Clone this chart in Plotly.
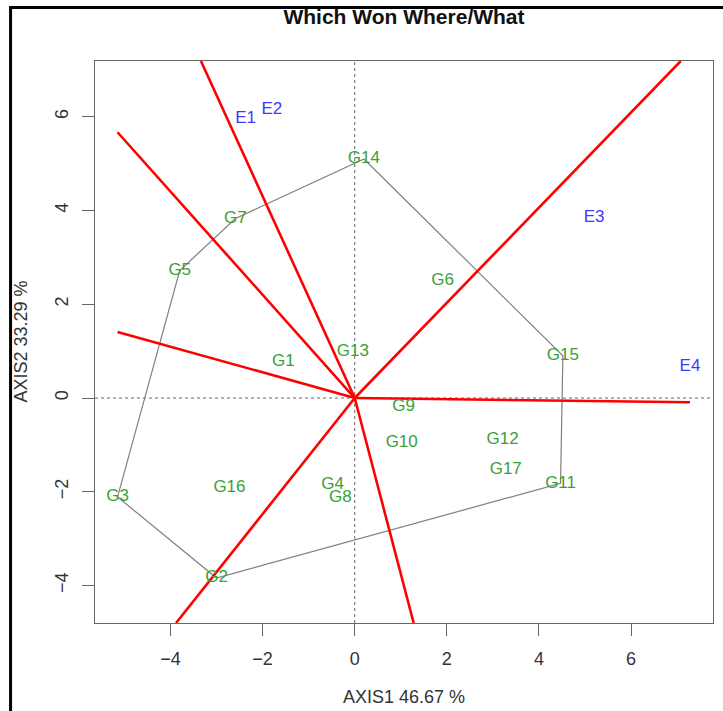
import plotly.graph_objects as go

# genotype scores
gen_names = ["G1", "G2", "G3", "G4", "G5", "G6", "G7", "G8", "G9", "G10",
             "G11", "G12", "G13", "G14", "G15", "G16", "G17"]
gen_x = [-1.55, -3.00, -5.15, -0.48, -3.80, 1.91, -2.59, -0.31, 1.06, 1.02,
         4.47, 3.21, -0.04, 0.20, 4.52, -2.72, 3.28]
gen_y = [0.77, -3.84, -2.11, -1.86, 2.72, 2.50, 3.83, -2.13, -0.19, -0.96,
         -1.82, -0.90, 0.98, 5.10, 0.90, -1.92, -1.53]

# environment scores
env_names = ["E1", "E2", "E3", "E4"]
env_x = [-2.37, -1.80, 5.20, 7.28]
env_y = [5.95, 6.16, 3.85, 0.66]

# convex hull (polygon vertices, in order)
hull = ["G14", "G15", "G11", "G2", "G3", "G5", "G7", "G14"]

# end points of the sector lines drawn from the origin
sector_x = [-3.34, -5.15, -5.15, -3.88, 1.28, 7.28, 7.08]
sector_y = [7.19, 5.67, 1.41, -4.80, -4.80, -0.09, 7.19]

x_range = [-5.64, 7.78]
y_range = [-4.80, 7.19]
ticks = [-4, -2, 0, 2, 4, 6]
tick_text = ["\u22124", "\u22122", "0", "2", "4", "6"]

W, H = 723, 711
L, R, T, B = 94.5, 10, 61, 88.3

fig = go.Figure()

# hull polygon
pos = dict(zip(gen_names, zip(gen_x, gen_y)))
fig.add_trace(go.Scatter(
    x=[pos[g][0] for g in hull], y=[pos[g][1] for g in hull],
    mode="lines", line=dict(color="#7f7f7f", width=1.2),
    hoverinfo="skip", showlegend=False))

# sector lines
for ex, ey in zip(sector_x, sector_y):
    fig.add_trace(go.Scatter(
        x=[0, ex], y=[0, ey], mode="lines",
        line=dict(color="#ff0000", width=2.6),
        hoverinfo="skip", showlegend=False))

label_font = "Liberation Sans, Arial"
fig.add_trace(go.Scatter(
    x=gen_x, y=gen_y, mode="text", text=gen_names,
    textfont=dict(color="#3aa03a", size=17, family=label_font),
    showlegend=False, cliponaxis=False))

fig.add_trace(go.Scatter(
    x=env_x, y=env_y, mode="text", text=env_names,
    textfont=dict(color="#3b3bff", size=17, family=label_font),
    showlegend=False, cliponaxis=False))

# dotted reference lines through the origin
fig.add_shape(type="line", x0=0, x1=0, y0=y_range[0], y1=y_range[1],
              line=dict(color="#666666", width=1, dash="dot"), layer="below")
fig.add_shape(type="line", x0=x_range[0], x1=x_range[1], y0=0, y1=0,
              line=dict(color="#666666", width=1, dash="dot"), layer="below")

# outer black frame of the original image
pw, ph = W - L - R, H - T - B
fig.add_shape(type="rect", xref="paper", yref="paper",
              x0=(10 - L) / pw, x1=(W + 20 - L) / pw,
              y0=(H - B - (H + 20)) / ph, y1=(H - B - 7.5) / ph,
              line=dict(color="black", width=3))

axis_font = dict(family=label_font, size=18, color="#333333")

# axis titles placed like R's mtext lines
fig.add_annotation(text="AXIS1 46.67 %", xref="paper", yref="paper",
                   x=0.5, y=-(697 - (H - B)) / ph, xanchor="center",
                   yanchor="middle", showarrow=False, font=axis_font)
fig.add_annotation(text="AXIS2 33.29 %", xref="paper", yref="paper",
                   x=-(L - 20) / pw, y=0.5, xanchor="center",
                   yanchor="middle", textangle=-90, showarrow=False,
                   font=axis_font)

fig.update_layout(
    width=W, height=H,
    margin=dict(l=L, r=R, t=T, b=B),
    paper_bgcolor="white", plot_bgcolor="white",
    title=dict(text="<b>Which Won Where/What</b>", x=0.5, xref="paper",
               y=1 - 17 / H, yanchor="middle",
               font=dict(family=label_font, size=21, color="#111111")),
    xaxis=dict(range=x_range, showgrid=False, zeroline=False,
               tickvals=ticks, ticktext=tick_text,
               ticks="outside", ticklen=12, tickcolor="#666666",
               showline=True, linecolor="#666666", mirror=True,
               tickfont=axis_font, ticklabelstandoff=7),
    yaxis=dict(range=y_range, showgrid=False, zeroline=False,
               tickvals=ticks, ticktext=tick_text, tickangle=-90,
               ticks="outside", ticklen=12, tickcolor="#666666",
               showline=True, linecolor="#666666", mirror=True,
               tickfont=axis_font, ticklabelstandoff=7),
)

# drop the default page margin so the figure sits at the window origin
fig.write_html("out.html", config={"displayModeBar": False},
               post_script="document.body.style.margin='0';")
